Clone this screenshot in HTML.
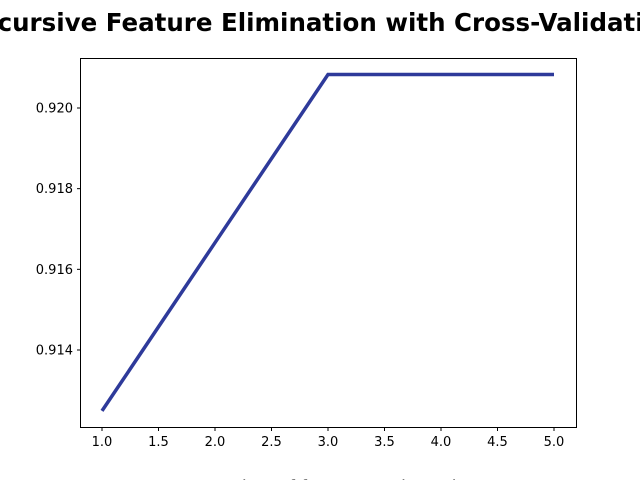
<!DOCTYPE html>
<html><head><meta charset="utf-8"><style>
body{margin:0;background:#fff;width:640px;height:480px;overflow:hidden}
svg{display:block;font-family:"DejaVu Sans","Liberation Sans",sans-serif}
</style></head><body>
<svg id="chart" width="640" height="480">
<text x="320" y="31" text-anchor="middle" font-size="24.5" font-weight="bold">Recursive Feature Elimination with Cross-Validation</text>
<rect x="80.5" y="58.5" width="496" height="369" fill="none" stroke="#000" stroke-width="1"/>
<g id="xt"></g><g id="yt"></g>
<polyline id="line" fill="none" stroke="#2e3a9a" stroke-width="3.5"/>
<text x="328" y="493" text-anchor="middle" font-size="18">Number of features selected</text>
</svg>
<script>
const features=[1,2,3,4,5];
const scores=[0.91249,0.91666,0.92083,0.92083,0.92083];
const xTicks=[1.0,1.5,2.0,2.5,3.0,3.5,4.0,4.5,5.0];
const yTicks=[0.914,0.916,0.918,0.920];
const NS='http://www.w3.org/2000/svg';
function xs(v){return 102+(v-1)*113;}
function ys(v){return 350-(v-0.914)/0.002*80.67;}
const xt=document.getElementById('xt'),yt=document.getElementById('yt');
xTicks.forEach(t=>{
 const l=document.createElementNS(NS,'line');
 l.setAttribute('x1',xs(t));l.setAttribute('x2',xs(t));l.setAttribute('y1',427.5);l.setAttribute('y2',431);l.setAttribute('stroke','#000');
 
 
 xt.appendChild(l);
 const s=document.createElementNS(NS,'text');
 s.setAttribute('x',xs(t));s.setAttribute('y',446);s.setAttribute('text-anchor','middle');s.setAttribute('font-size','13');
 s.textContent=t.toFixed(1);
 
 
 xt.appendChild(s);
});
yTicks.forEach(t=>{
 const l=document.createElementNS(NS,'line');
 l.setAttribute('x1',77);l.setAttribute('x2',80.5);l.setAttribute('y1',ys(t));l.setAttribute('y2',ys(t));l.setAttribute('stroke','#000');
 
 
 yt.appendChild(l);
 const s=document.createElementNS(NS,'text');
 s.setAttribute('x',73);s.setAttribute('y',ys(t)+4.5);s.setAttribute('text-anchor','end');s.setAttribute('font-size','13');
 s.textContent=t.toFixed(3);
 
 
 yt.appendChild(s);
});
document.getElementById('line').setAttribute('points',features.map((f,i)=>xs(f)+','+ys(scores[i])).join(' '));
</script>
</body></html>
